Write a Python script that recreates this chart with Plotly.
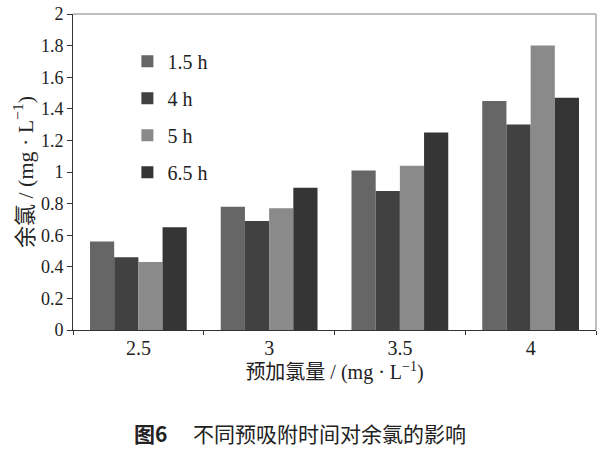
import plotly.graph_objects as go

categories = ["2.5", "3", "3.5", "4"]
series_names = ["1.5 h", "4 h", "5 h", "6.5 h"]
v_15h = [0.56, 0.78, 1.01, 1.45]
v_4h = [0.46, 0.69, 0.88, 1.30]
v_5h = [0.43, 0.77, 1.04, 1.80]
v_65h = [0.65, 0.90, 1.25, 1.47]
colors = ["#666666", "#414141", "#8a8a8a", "#353535"]
y_ticks = [0, 0.2, 0.4, 0.6, 0.8, 1, 1.2, 1.4, 1.6, 1.8, 2]
y_tick_text = ["0", "0.2", "0.4", "0.6", "0.8", "1", "1.2", "1.4", "1.6", "1.8", "2"]

serif = "Liberation Serif, Times New Roman, serif"
mixed = "Liberation Serif, Noto Sans CJK SC"
cjk = "Noto Sans CJK SC"

fig = go.Figure()
for name, vals, c in zip(series_names, [v_15h, v_4h, v_5h, v_65h], colors):
    fig.add_trace(go.Bar(x=categories, y=vals, name=name, marker=dict(color=c, line=dict(width=0)),
                         legendgroup=name))

fig.update_layout(
    width=600, height=450,
    margin=dict(l=73, r=4, t=12, b=120),
    paper_bgcolor="white", plot_bgcolor="white",
    barmode="group", bargap=0.26, bargroupgap=0,
    font=dict(family=serif, size=18, color="#222222"),
    legend=dict(x=0.104, y=0.912, xanchor="left", yanchor="top", bgcolor="rgba(0,0,0,0)",
                font=dict(family=serif, size=20, color="#222222"),
                traceorder="grouped", tracegroupgap=8),
    xaxis=dict(type="category", showline=True, linecolor="#333333", linewidth=1,
               ticks="outside", tickson="boundaries", ticklen=4, tickcolor="#333333",
               tickfont=dict(family=serif, size=20, color="#222222"),
               title=dict(text="预加氯量 / (mg · L<sup>−1</sup>)", font=dict(family=mixed, size=20, color="#222222"), standoff=6),
               showgrid=False),
    yaxis=dict(range=[0, 2], tickvals=y_ticks, ticktext=y_tick_text, showline=True, linecolor="#333333",
               linewidth=1, ticks="outside", ticklen=5, tickcolor="#333333",
               tickfont=dict(family=serif, size=18, color="#222222"),
               title=dict(text="余氯 / (mg · L<sup>−1</sup>)", font=dict(family=mixed, size=22, color="#222222"), standoff=1),
               showgrid=False, zeroline=False),
)

# gray frame top and right
fig.add_shape(type="line", xref="paper", yref="paper", x0=0, x1=1, y0=1, y1=1, line=dict(color="#aaaaaa", width=1.5))
fig.add_shape(type="line", xref="paper", yref="paper", x0=1, x1=1, y0=0, y1=1, line=dict(color="#aaaaaa", width=1.5))

fig.add_annotation(text="<b>图6</b>　 不同预吸附时间对余氯的影响", xref="paper", yref="paper",
                   x=0.434, y=-0.326, xanchor="center", yanchor="middle", showarrow=False,
                   font=dict(family=cjk, size=21, color="#222222"))

fig.write_html("out.html", config={"displayModeBar": False},
               post_script="document.body.style.margin='0';")
